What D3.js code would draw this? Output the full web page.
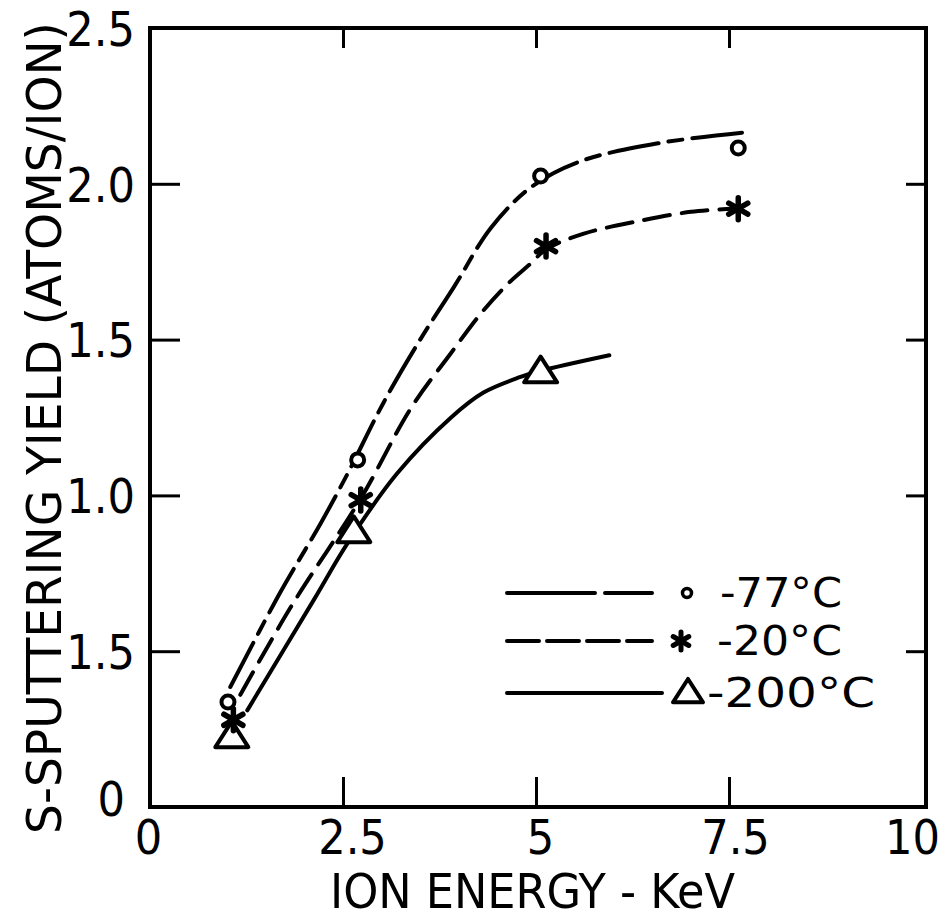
<!DOCTYPE html>
<html><head><meta charset="utf-8">
<script src="https://cdn.jsdelivr.net/npm/d3@7"></script>
<style>
html,body{margin:0;padding:0;background:#fff;}
svg text{font-family:"DejaVu Sans Condensed","Liberation Sans Narrow","DejaVu Sans",sans-serif;font-stretch:condensed;fill:#000;}
</style></head>
<body><svg id="c" width="939" height="921"></svg>
<script>
// ---- data ----
const xTickValues = [0, 2.5, 5, 7.5, 10];
const xTickLabels = ["0", "2.5", "5", "7.5", "10"];
const yTickValues = [0, 0.5, 1.0, 1.5, 2.0, 2.5];
const yTickLabels = ["0", "1.5", "1.0", "1.5", "2.0", "2.5"];
const seriesNames = ["-77°C", "-20°C", "-200°C"];

// measured points
const x77 = [1.01, 2.69, 5.06, 7.62];
const y77 = [0.337, 1.114, 2.025, 2.115];
const x20 = [1.08, 2.73, 5.13, 7.62];
const y20 = [0.28, 0.985, 1.80, 1.92];
const x200 = [1.06, 2.64, 5.06];
const y200 = [0.225, 0.883, 1.396];

// drawn curves (x, y)
const curve77x = [1.04, 1.69, 2.21, 2.56, 3.03, 3.5, 3.94, 4.42, 4.94, 5.55, 6.58, 7.75];
const curve77y = [0.385, 0.69, 0.91, 1.07, 1.30, 1.50, 1.67, 1.86, 1.99, 2.07, 2.13, 2.166];
const curve20x = [1.17, 1.82, 2.73, 3.38, 3.9, 4.29, 4.64, 4.94, 5.13, 5.62, 6.32, 7.01, 7.55];
const curve20y = [0.36, 0.64, 0.99, 1.28, 1.457, 1.585, 1.68, 1.746, 1.79, 1.84, 1.88, 1.91, 1.92];
const curve200x = [1.26, 2.12, 2.56, 3.2, 3.9, 4.32, 4.8, 5.06, 5.95];
const curve200y = [0.31, 0.664, 0.847, 1.07, 1.25, 1.33, 1.38, 1.40, 1.45];

const xTitle = "ION ENERGY - KeV";
const yTitle = "S-SPUTTERING YIELD (ATOMS/ION)";

// ---- drawing ----
const svg = d3.select("#c");
const L = 150, R = 922, RF = 926, T = 28, B = 807;
const x = d3.scaleLinear().domain([0, 10]).range([L, R]);
const y = d3.scaleLinear().domain([0, 2.5]).range([B, T]);

const zip = (a, b) => a.map((v, i) => [v, b[i]]);

// label nudges (style only)
const xLabelShift = [-2, 9, 4, 6, -10];
const fs = 48;

const gL = svg.append("g").attr("transform", `translate(${L},0)`)
  .call(d3.axisLeft(y).tickValues(yTickValues).tickFormat((d, i) => yTickLabels[i])
    .tickSizeInner(-30).tickSizeOuter(0).tickPadding(15));
const gB = svg.append("g").attr("transform", `translate(0,${B})`)
  .call(d3.axisBottom(x).tickValues(xTickValues).tickFormat((d, i) => xTickLabels[i])
    .tickSizeInner(-30).tickSizeOuter(0).tickPadding(13));
const gT = svg.append("g").attr("transform", `translate(0,${T})`)
  .call(d3.axisTop(x).tickValues(xTickValues.slice(1, -1)).tickFormat("")
    .tickSizeInner(-20).tickSizeOuter(0));
const gR = svg.append("g").attr("transform", `translate(${RF},0)`)
  .call(d3.axisRight(y).tickValues(yTickValues.slice(1, -1)).tickFormat("")
    .tickSizeInner(-20).tickSizeOuter(0));
[gL, gB, gT, gR].forEach(g => {
  g.select(".domain").remove();
  g.selectAll("line").attr("stroke", "#000").attr("stroke-width", 3);
  g.selectAll("text").attr("font-size", fs).attr("font-family", null).attr("fill", "#000");
});
gL.selectAll(".tick").filter(d => d === 0 || d === 2.5).select("line").remove();
gB.selectAll(".tick").filter(d => d === 0 || d === 10).select("line").remove();
gL.selectAll("text").attr("dy", "0.36em");
gL.selectAll(".tick").filter(d => d === 0).select("text").attr("dx", -10).attr("dy", "0.18em");
gB.selectAll("text").attr("dx", (d, i) => xLabelShift[i]);

// frame
svg.append("rect").attr("x", L).attr("y", T).attr("width", RF - L).attr("height", B - T)
  .attr("fill", "none").attr("stroke", "#000").attr("stroke-width", 4);

// titles
svg.append("text").attr("x", (330 + 735) / 2).attr("y", 908).attr("text-anchor", "middle")
  .attr("font-size", 48).attr("textLength", 405).attr("lengthAdjust", "spacingAndGlyphs").text(xTitle);
svg.append("text").attr("transform", "translate(61,428) rotate(-90)").attr("text-anchor", "middle")
  .attr("font-size", 48).attr("textLength", 812).attr("lengthAdjust", "spacingAndGlyphs").text(yTitle);

// curves
const line = d3.line().x(d => x(d[0])).y(d => y(d[1])).curve(d3.curveCatmullRom.alpha(0.5));
const curveStyles = [
  {xs: curve77x, ys: curve77y, dash: "50,10,14,10"},
  {xs: curve20x, ys: curve20y, dash: "26,12"},
  {xs: curve200x, ys: curve200y, dash: null}
];
curveStyles.forEach(c => {
  svg.append("path").attr("d", line(zip(c.xs, c.ys))).attr("fill", "none")
    .attr("stroke", "#000").attr("stroke-width", 4).attr("stroke-linecap", "round")
    .attr("stroke-dasharray", c.dash);
});

// markers
function circleMark(g, cx, cy, r, sw) {
  g.append("circle").attr("cx", cx).attr("cy", cy).attr("r", r)
    .attr("fill", "#fff").attr("stroke", "#000").attr("stroke-width", sw);
}
function starMark(g, cx, cy, s, sw) {
  [90, 30, 150].forEach(a => {
    const rad = a * Math.PI / 180, dx = Math.cos(rad) * s, dy = Math.sin(rad) * s;
    g.append("line").attr("x1", cx - dx).attr("y1", cy - dy).attr("x2", cx + dx).attr("y2", cy + dy)
      .attr("stroke", "#000").attr("stroke-width", sw).attr("stroke-linecap", "round");
  });
}
function triMark(g, cx, cy, w) {
  const h = w * 0.78;
  g.append("path").attr("d", `M${cx},${cy - h * 0.6}L${cx + w / 2},${cy + h * 0.4}L${cx - w / 2},${cy + h * 0.4}Z`)
    .attr("fill", "#fff").attr("stroke", "#000").attr("stroke-width", 4).attr("stroke-linejoin", "round");
}
const gm = svg.append("g");
zip(x200, y200).forEach(d => triMark(gm, x(d[0]), y(d[1]), 33));
zip(x77, y77).forEach(d => circleMark(gm, x(d[0]), y(d[1]), 6.5, 4));
zip(x20, y20).forEach(d => starMark(gm, x(d[0]), y(d[1]), 11, 5.5));

// legend
const lg = svg.append("g");
const rows = [593, 641, 693];
const legDash = ["88,10,47", "32,8", null];
const legEnd = [652, 652, 662];
rows.forEach((ry, i) => {
  lg.append("line").attr("x1", 507).attr("x2", legEnd[i]).attr("y1", ry).attr("y2", ry)
    .attr("stroke", "#000").attr("stroke-width", 4).attr("stroke-linecap", "round")
    .attr("stroke-dasharray", legDash[i]);
});
circleMark(lg, 687, rows[0], 4.5, 3.5);
starMark(lg, 681, rows[1], 9, 5);
triMark(lg, 688, rows[2], 30);
const legX = [720, 717, 707];
const legW = [122, 125, 168];
seriesNames.forEach((n, i) => {
  lg.append("text").attr("x", legX[i]).attr("y", rows[i]).attr("dy", "0.36em")
    .attr("font-size", 40).attr("textLength", legW[i]).attr("lengthAdjust", "spacingAndGlyphs").text(n);
});
</script></body></html>
